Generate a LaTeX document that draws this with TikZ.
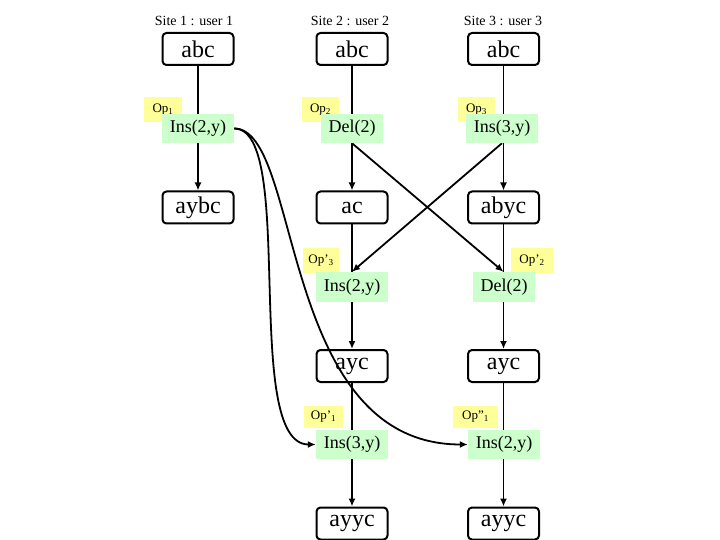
\documentclass[tikz,border=0pt]{standalone}
\usepackage{fontspec}
\setmainfont{Liberation Serif}
\usetikzlibrary{arrows.meta}
\pgfdeclarelayer{background}
\pgfsetlayers{background,main}
\tikzset{
  state/.style={draw, line width=2pt, rounded corners=4pt, fill=white,
    minimum width=71pt, minimum height=32pt, inner sep=0pt,
    font=\fontsize{24}{26}\selectfont},
  opname/.style={fill=yellowop, minimum height=25pt, inner sep=0pt,
    font=\fontsize{13}{14}\selectfont},
  opcall/.style={fill=greenop, minimum height=29pt, inner sep=0pt,
    font=\fontsize{18}{20}\selectfont},
  site/.style={font=\fontsize{14}{16}\selectfont, inner sep=0pt},
  flow/.style={line width=1.8pt, -{Latex[length=8pt,width=7pt]}},
}
\definecolor{yellowop}{HTML}{FFFF99}
\definecolor{greenop}{HTML}{CCFFCC}
\begin{document}
\begin{tikzpicture}[x=1pt,y=-1pt]
\useasboundingbox (0,0) rectangle (720,540);
% site titles
\node[site] (s1) at (194,21) {Site 1 : user 1};
\node[site] (s2) at (350,21) {Site 2 : user 2};
\node[site] (s3) at (503,21) {Site 3 : user 3};
% states
\node[state] (abcA) at (198,49) {abc};
\node[state] (abcB) at (352,49) {abc};
\node[state] (abcC) at (503.5,49) {abc};
\node[state] (aybc) at (198,207.5) {aybc};
\node[state] (ac) at (352,207.5) {ac};
\node[state] (abyc) at (503.5,207.5) {abyc};
\node[state] (aycB) at (352,366) {ayc};
\node[state] (aycC) at (503.5,366) {ayc};
\node[state] (ayycB) at (352,523.5) {ayyc};
\node[state] (ayycC) at (503.5,523.5) {ayyc};
% op names (yellow)
\node[opname, minimum width=38pt] (op1) at (163,109.5) {Op\textsubscript{1}};
\node[opname, minimum width=37pt] (op2) at (320.5,109.5) {Op\textsubscript{2}};
\node[opname, minimum width=37pt] (op3) at (476.5,109.5) {Op\textsubscript{3}};
\node[opname, minimum width=36pt] (op3p) at (321,260.5) {Op'\textsubscript{3}};
\node[opname, minimum width=42pt] (op2p) at (532,260.5) {Op'\textsubscript{2}};
\node[opname, minimum width=39pt, minimum height=22pt] (op1p) at (323.5,417) {Op'\textsubscript{1}};
\node[opname, minimum width=45pt, minimum height=22pt] (op1pp) at (475.5,417) {Op''\textsubscript{1}};
% op calls (green)
\node[opcall, minimum width=72pt] (insA) at (198,128.5) {Ins(2,y)};
\node[opcall, minimum width=62pt] (delB) at (352,128.5) {Del(2)};
\node[opcall, minimum width=72pt] (insC) at (502,128.5) {Ins(3,y)};
\node[opcall, minimum width=72pt, minimum height=30pt] (insB2) at (352,287) {Ins(2,y)};
\node[opcall, minimum width=62pt, minimum height=30pt] (delC2) at (504,287) {Del(2)};
\node[opcall, minimum width=72pt] (insB3) at (352,444.5) {Ins(3,y)};
\node[opcall, minimum width=72pt] (insC3) at (504,444.5) {Ins(2,y)};
% straight connectors behind the green labels
\begin{pgfonlayer}{background}
\draw[flow] (abcA) -- (aybc);
\draw[flow] (abcB) -- (ac);
\draw[flow] (ac) -- (aycB);
\draw[flow] (aycB) -- (ayycB);
\draw[flow] (abcC) -- (abyc);
\draw[flow] (abyc) -- (aycC);
\draw[flow] (aycC) -- (ayycC);
\draw[flow] (delB.south) -- (delC2.north -| abyc);
\draw[flow] (insC.south) -- (insB2.north);
\end{pgfonlayer}
% curved connectors
\draw[flow] (insA.east) .. controls +(63,0) and +(-75,0) .. (insB3.west);
\draw[flow] (insA.east) .. controls +(68,0) and +(-190,0) .. (insC3.west);
\end{tikzpicture}
\end{document}
